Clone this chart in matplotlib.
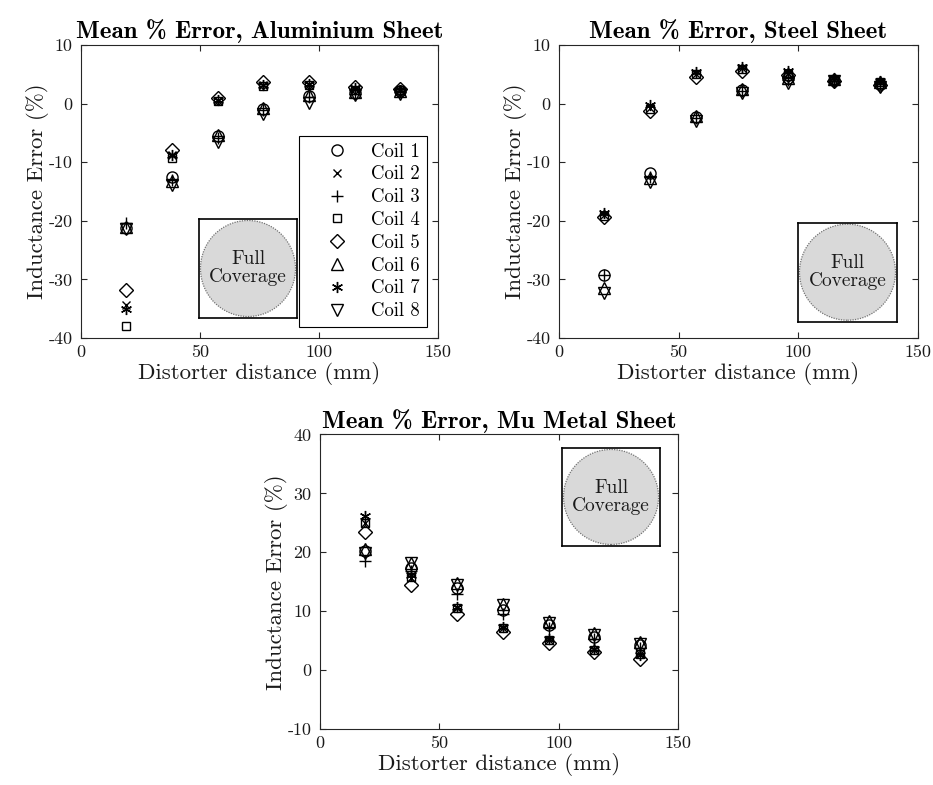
import os
import matplotlib
matplotlib.use("Agg")
import matplotlib.pyplot as plt
from matplotlib.patches import Circle
from matplotlib.font_manager import FontProperties

plt.rcParams['font.family'] = 'serif'
plt.rcParams['font.serif'] = ['cmr10']
plt.rcParams['mathtext.fontset'] = 'cm'
plt.rcParams['axes.unicode_minus'] = False
plt.rcParams['axes.formatter.use_mathtext'] = False

# bold Computer Modern for the titles
bold_cm = FontProperties(fname=os.path.join(matplotlib.get_data_path(), 'fonts', 'ttf', 'cmb10.ttf'),
                         size=18)

# distorter distances (mm)
dist = [19.0, 38.2, 57.4, 76.6, 95.8, 115.0, 134.2]

coil_labels = ['Coil 1', 'Coil 2', 'Coil 3', 'Coil 4',
               'Coil 5', 'Coil 6', 'Coil 7', 'Coil 8']

# mean % inductance error, aluminium sheet
al_coil1 = [-21.2, -12.6, -5.6, -0.9, 1.3, 1.8, 2.1]
al_coil2 = [-34.3, -8.8, 0.5, 3.1, 3.2, 2.5, 2.3]
al_coil3 = [-20.3, -13.0, -5.8, -1.1, 1.1, 1.7, 2.0]
al_coil4 = [-37.9, -9.2, 0.4, 3.0, 3.1, 2.4, 2.3]
al_coil5 = [-31.8, -8.0, 1.0, 3.6, 3.6, 2.8, 2.5]
al_coil6 = [-21.0, -13.2, -5.4, -0.7, 1.5, 2.0, 2.2]
al_coil7 = [-35.0, -8.7, 0.6, 3.2, 3.3, 2.6, 2.3]
al_coil8 = [-21.4, -13.9, -6.5, -1.8, 0.1, 1.4, 1.7]

# steel sheet
st_coil1 = [-29.2, -11.9, -2.3, 2.4, 4.3, 4.0, 3.4]
st_coil2 = [-19.0, -0.8, 5.1, 6.0, 5.2, 4.1, 3.6]
st_coil3 = [-29.3, -12.5, -2.4, 2.2, 4.0, 3.9, 3.3]
st_coil4 = [-19.1, -0.9, 5.0, 5.9, 5.1, 4.1, 3.6]
st_coil5 = [-19.3, -1.2, 4.6, 5.6, 4.8, 3.8, 3.2]
st_coil6 = [-31.5, -12.7, -2.2, 2.5, 4.4, 4.2, 3.7]
st_coil7 = [-18.7, -0.3, 5.4, 6.3, 5.5, 4.3, 3.8]
st_coil8 = [-32.4, -13.4, -2.9, 1.8, 3.5, 3.8, 2.9]

# mu metal sheet
mu_coil1 = [20.2, 17.4, 13.9, 10.2, 7.6, 5.7, 4.2]
mu_coil2 = [25.0, 15.7, 10.5, 7.2, 5.1, 3.4, 2.7]
mu_coil3 = [18.6, 16.9, 12.9, 9.5, 7.2, 5.3, 3.7]
mu_coil4 = [25.0, 15.8, 10.6, 7.2, 5.1, 3.5, 2.8]
mu_coil5 = [23.5, 14.5, 9.5, 6.5, 4.6, 3.0, 1.9]
mu_coil6 = [20.5, 18.2, 14.8, 11.3, 8.4, 6.3, 4.8]
mu_coil7 = [26.1, 16.1, 10.7, 7.4, 5.2, 3.6, 2.6]
mu_coil8 = [19.9, 18.2, 14.5, 11.0, 8.0, 5.9, 4.4]

al_err = [al_coil1, al_coil2, al_coil3, al_coil4, al_coil5, al_coil6, al_coil7, al_coil8]
st_err = [st_coil1, st_coil2, st_coil3, st_coil4, st_coil5, st_coil6, st_coil7, st_coil8]
mu_err = [mu_coil1, mu_coil2, mu_coil3, mu_coil4, mu_coil5, mu_coil6, mu_coil7, mu_coil8]

markers = ['o', 'x', '+', 's', 'D', '^', (6, 2, 0), 'v']
sizes = [8, 6, 9, 6, 7, 9, 8, 9]


def plot_sheet(ax, errs, title, ylim, yticks):
    for vals, m, ms, lab in zip(errs, markers, sizes, coil_labels):
        ax.plot(dist, vals, linestyle='none', marker=m, markersize=ms,
                mfc='none', mec='k', mew=1.0, label=lab)
    ax.set_xlim(0, 150)
    ax.set_ylim(*ylim)
    ax.set_xticks([0, 50, 100, 150])
    ax.set_yticks(yticks)
    ax.tick_params(direction='in', top=True, right=True, length=4,
                   labelsize=13, colors='0.15', labelcolor='0.1')
    ax.tick_params(axis='y', pad=6)
    ax.tick_params(axis='x', pad=5)
    for s in ax.spines.values():
        s.set_color('0.15')
        s.set_linewidth(0.8)
    ax.set_xlabel('Distorter distance (mm)', fontsize=16.5, labelpad=1, color='0.1')
    ax.set_ylabel('Inductance Error (%)', fontsize=16.5, labelpad=0, color='0.1')
    ax.set_title(title, fontproperties=bold_cm, pad=5)


def coverage_box(rect):
    ins = fig.add_axes(rect)
    ins.set_xlim(0, 1)
    ins.set_ylim(0, 1)
    ins.set_xticks([])
    ins.set_yticks([])
    for s in ins.spines.values():
        s.set_linewidth(1.2)
        s.set_color('k')
    ins.add_patch(Circle((0.5, 0.5), 0.485, facecolor='#d9d9d9',
                         edgecolor='0.45', linestyle=(0, (1, 1)), linewidth=0.9))
    ins.text(0.5, 0.5, 'Full\nCoverage', ha='center', va='center',
             fontsize=14, linespacing=1.0, color='0.1')


fig = plt.figure(figsize=(9.33, 7.85), dpi=100)

ax1 = fig.add_axes([0.0868, 0.5694, 0.3827, 0.3733])
plot_sheet(ax1, al_err, 'Mean % Error, Aluminium Sheet', (-40, 10), [-40, -30, -20, -10, 0, 10])
leg = ax1.legend(loc='lower right', fontsize=13.5, frameon=True, fancybox=False,
                 framealpha=1, edgecolor='k', handlelength=3.3, handletextpad=0.2,
                 labelspacing=0.26, borderpad=0.35, borderaxespad=0.6)
leg.get_frame().set_linewidth(0.8)

ax2 = fig.add_axes([0.5991, 0.5694, 0.3848, 0.3733])
plot_sheet(ax2, st_err, 'Mean % Error, Steel Sheet', (-40, 10), [-40, -30, -20, -10, 0, 10])

ax3 = fig.add_axes([0.343, 0.0713, 0.3837, 0.3752])
plot_sheet(ax3, mu_err, 'Mean % Error, Mu Metal Sheet', (-10, 40), [-10, 0, 10, 20, 30, 40])

coverage_box([0.2133, 0.5949, 0.1050, 0.1261])
coverage_box([0.8553, 0.5902, 0.1061, 0.1261])
coverage_box([0.6024, 0.3045, 0.1050, 0.1248])

fig.savefig('out.png', dpi=100, facecolor='white')
